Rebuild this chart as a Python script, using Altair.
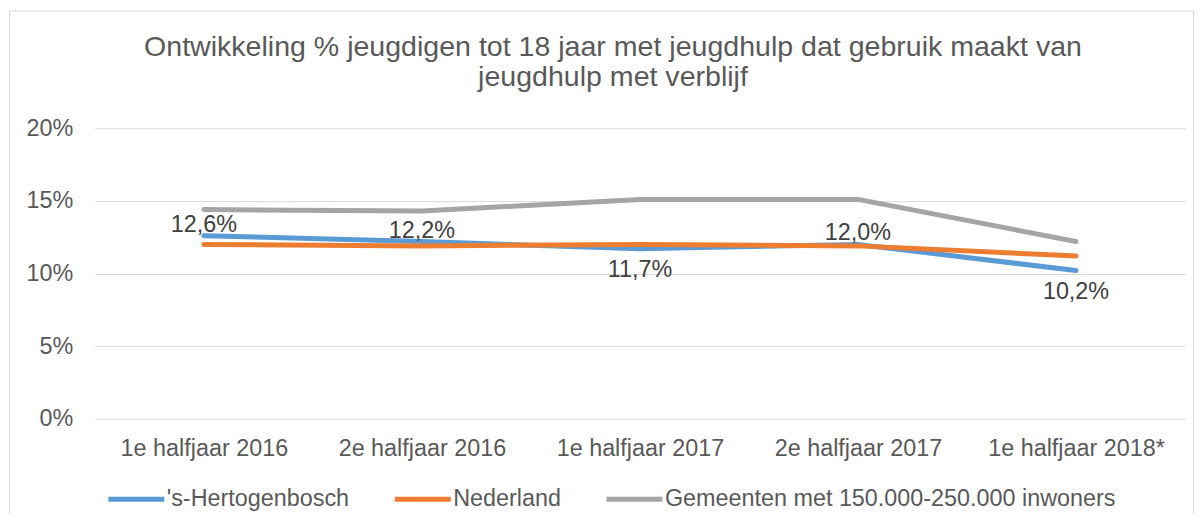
import altair as alt
import pandas as pd

periods = ["1e halfjaar 2016", "2e halfjaar 2016", "1e halfjaar 2017",
           "2e halfjaar 2017", "1e halfjaar 2018*"]
series_names = ["'s-Hertogenbosch", "Nederland",
                "Gemeenten met 150.000-250.000 inwoners"]
den_bosch = [12.6, 12.2, 11.7, 12.0, 10.2]
nederland = [12.0, 11.9, 12.0, 11.9, 11.2]
gemeenten = [14.4, 14.3, 15.1, 15.1, 12.2]
colors = ["#5B9BD5", "#ED7D31", "#A5A5A5"]
title_lines = ["Ontwikkeling % jeugdigen tot 18 jaar met jeugdhulp dat gebruik maakt van",
               "jeugdhulp met verblijf"]
y_ticks = [0, 5, 10, 15, 20]

rows = []
for name, vals in zip(series_names, [den_bosch, nederland, gemeenten]):
    for p, v in zip(periods, vals):
        rows.append({"period": p, "series": name, "value": v})
df = pd.DataFrame(rows)

lab = pd.DataFrame({"period": periods, "value": den_bosch, "ned": nederland})

FONT = "Liberation Sans"
FS = 23.4
W, H = 1092, 291
PL, PT, PR, PB = 87, 120, 10, 96

x_enc = alt.X("period:N", sort=periods, title=None,
              axis=alt.Axis(labelAngle=0, domain=False, ticks=False, grid=False,
                            labelFontSize=FS, labelColor="#595959", labelFont=FONT,
                            labelPadding=19))
y_enc = alt.Y("value:Q", title=None,
              scale=alt.Scale(domain=[0, 20], nice=False),
              axis=alt.Axis(values=y_ticks, labelExpr="datum.value + '%'",
                            domain=False, ticks=False, gridColor="#D9D9D9",
                            gridWidth=1, labelFontSize=FS, labelColor="#595959",
                            labelFont=FONT, labelPadding=22))

lines = alt.Chart(df).mark_line(strokeWidth=5, strokeCap="round",
                                strokeJoin="round").encode(
    x=x_enc,
    y=y_enc,
    color=alt.Color("series:N", sort=series_names,
                    scale=alt.Scale(domain=series_names, range=colors),
                    legend=alt.Legend(title=None, orient="none", direction="horizontal",
                                      legendX=11, legendY=341,
                                      symbolType="stroke", symbolSize=3136,
                                      symbolStrokeWidth=5, labelFontSize=FS,
                                      labelFont=FONT, labelColor="#595959",
                                      labelLimit=0, labelOffset=0,
                                      columnPadding=35)),
)

base_lab = alt.Chart(lab).transform_calculate(
    label="replace(format(datum.value / 100, '.1%'), '.', ',')"
)
above = base_lab.transform_filter("datum.value >= datum.ned").mark_text(
    fontSize=FS, font=FONT, color="#404040", dy=-11, baseline="middle"
).encode(x=alt.X("period:N", sort=periods), y=alt.Y("value:Q"), text="label:N")
below = base_lab.transform_filter("datum.value < datum.ned").mark_text(
    fontSize=FS, font=FONT, color="#404040", dy=21, baseline="middle"
).encode(x=alt.X("period:N", sort=periods), y=alt.Y("value:Q"), text="label:N")

one = pd.DataFrame({"a": [0]})
svg_h = H + PT + PB
left_edge = 1.5 - PL
top_edge = 2.5 - PT
right_edge = W + PR - 1.5
frame_left = alt.Chart(one).mark_rule(color="#D9D9D9", strokeWidth=1).encode(
    x=alt.value(left_edge), y=alt.value(top_edge), y2=alt.value(svg_h - PT))
frame_right = alt.Chart(one).mark_rule(color="#D9D9D9", strokeWidth=1).encode(
    x=alt.value(right_edge), y=alt.value(top_edge), y2=alt.value(svg_h - PT))
frame_top = alt.Chart(one).mark_rule(color="#D9D9D9", strokeWidth=1).encode(
    x=alt.value(left_edge), x2=alt.value(right_edge), y=alt.value(top_edge))

chart = alt.layer(lines, above, below, frame_left, frame_right, frame_top).properties(
    width=W, height=H,
    title=alt.TitleParams(title_lines, anchor="middle", fontSize=28.6, font=FONT,
                          fontWeight="normal", color="#595959", lineHeight=30,
                          dx=-27, offset=-110, baseline="bottom"),
    autosize=alt.AutoSizeParams(type="none"),
    padding={"left": PL, "top": PT, "right": PR, "bottom": PB},
).configure_view(stroke=None).configure_scale(pointPadding=0.5)

chart.save("out.html", embed_options={"renderer": "svg", "actions": False})
